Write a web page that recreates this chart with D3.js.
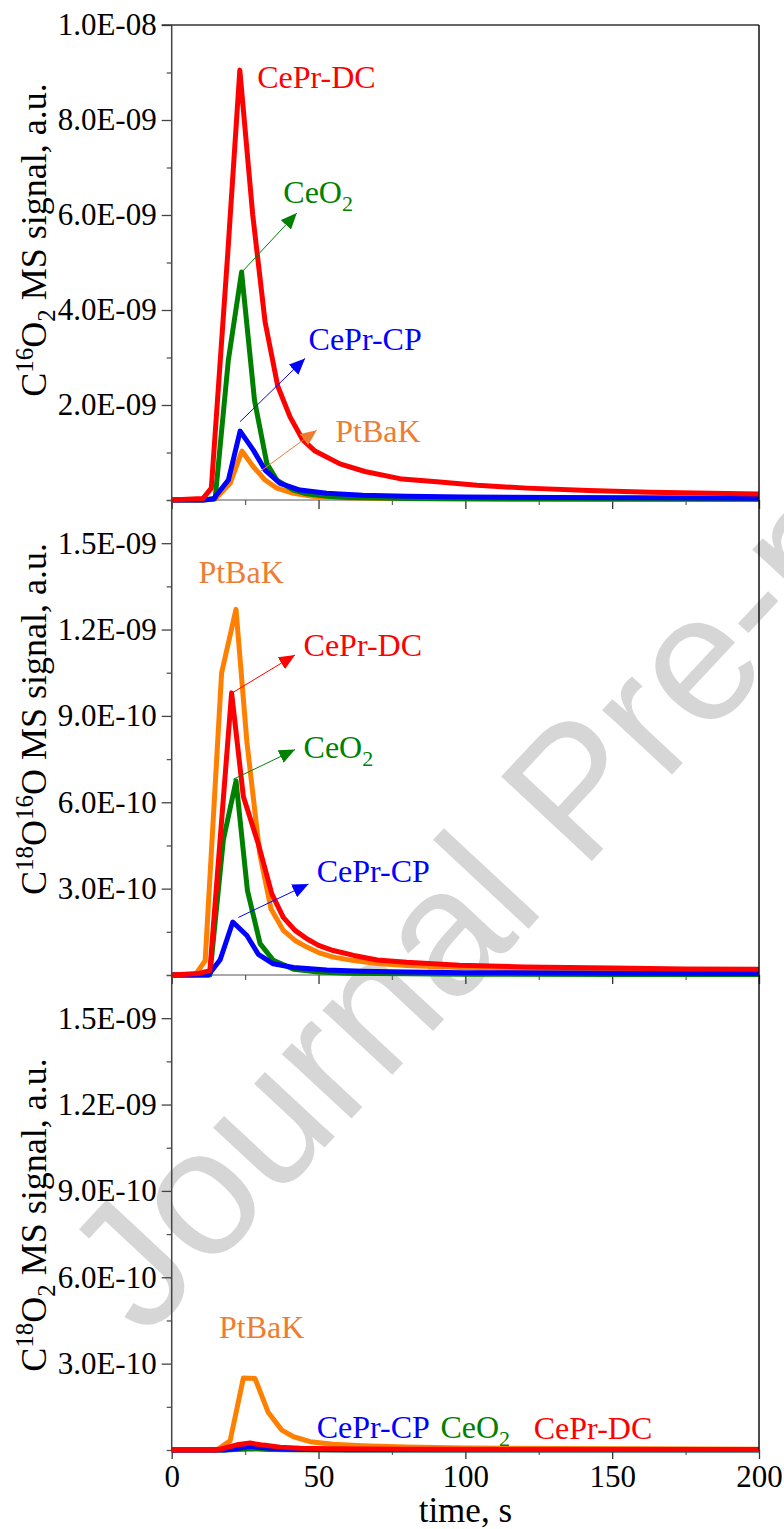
<!DOCTYPE html>
<html><head><meta charset="utf-8">
<script src="https://cdn.jsdelivr.net/npm/d3@7"></script>
<style>body{margin:0;background:#fff}svg{display:block}</style>
</head><body>
<svg id="c" width="784" height="1529"></svg>
<script>
// ---------- DATA ----------
// time axis
const xMajorTicks = [0, 50, 100, 150, 200];
const xMinorTicks = [25, 75, 125, 175];

// Panel 1: C16O2, values in units of 1e-9
const p1Unit = 1e-9;
const p1RedT    = [0, 10.6, 13.5, 19.1, 23.2, 27.6, 31.8, 36.1, 40.3, 44.6, 48.8, 57.3, 65.8, 78.5, 91.3, 104, 121, 142, 163, 184, 200];
const p1RedV    = [0, 0.03, 0.25, 5.2, 9.05, 6.0, 3.75, 2.4, 1.75, 1.27, 1.03, 0.76, 0.6, 0.44, 0.38, 0.31, 0.25, 0.2, 0.165, 0.14, 0.126];
const p1GreenT  = [0, 10.6, 14.8, 19.3, 23.8, 28.2, 32.4, 35.8, 41.5, 46, 52.9, 60, 80, 120, 200];
const p1GreenV  = [0, 0, 0.03, 2.95, 4.8, 2.1, 0.77, 0.42, 0.21, 0.13, 0.08, 0.05, 0.03, 0.02, 0.015];
const p1BlueT   = [0, 10.6, 14.2, 19.3, 23.3, 27.8, 31.8, 36.9, 43.7, 52.8, 65, 80, 100, 130, 160, 200];
const p1BlueV   = [0, 0, 0.02, 0.42, 1.45, 1.05, 0.63, 0.35, 0.21, 0.14, 0.1, 0.08, 0.065, 0.055, 0.045, 0.038];
const p1OrangeT = [0, 10.6, 14.8, 19.9, 23.9, 27.8, 31.8, 35.8, 41.5, 48, 56, 70, 90, 130, 200];
const p1OrangeV = [0, 0, 0.02, 0.35, 1.03, 0.7, 0.42, 0.25, 0.14, 0.08, 0.05, 0.035, 0.025, 0.02, 0.015];

// Panel 2: C18O16O, values in units of 1e-10
const p2Unit = 1e-10;
const p2OrangeT = [0, 8, 11.4, 17, 21.9, 25.6, 30, 33.8, 38, 42, 46, 50, 55, 62, 70, 80, 98, 120, 150, 175, 200];
const p2OrangeV = [0, 0, 0.5, 10.5, 12.7, 8.1, 4.2, 2.3, 1.55, 1.2, 0.97, 0.78, 0.62, 0.5, 0.4, 0.33, 0.26, 0.22, 0.18, 0.16, 0.15];
const p2RedT    = [0, 9, 13, 20.4, 24.4, 29.5, 34.1, 38, 42, 46, 50, 55, 62, 70, 80, 98, 120, 150, 175, 200];
const p2RedV    = [0, 0.05, 0.15, 9.8, 6.2, 4.55, 2.82, 2.0, 1.55, 1.26, 1.03, 0.85, 0.68, 0.52, 0.44, 0.34, 0.28, 0.24, 0.21, 0.2];
const p2GreenT  = [0, 13, 17.6, 21.9, 25.8, 30.1, 34.6, 41.5, 50, 60, 80, 100, 150, 200];
const p2GreenV  = [0, 0, 4.7, 6.74, 2.93, 1.09, 0.51, 0.2, 0.1, 0.06, 0.04, 0.03, 0.02, 0.02];
const p2BlueT   = [0, 12.5, 16.5, 20.8, 25.6, 29.5, 34.6, 41.5, 52.8, 65, 80, 100, 130, 160, 200];
const p2BlueV   = [0, 0, 0.53, 1.84, 1.37, 0.72, 0.39, 0.26, 0.17, 0.13, 0.1, 0.08, 0.07, 0.06, 0.05];

// Panel 3: C18O2, values in units of 1e-10
const p3Unit = 1e-10;
const p3OrangeT = [0, 15.3, 19.9, 24.4, 28.4, 32.9, 37.5, 41.5, 47.2, 55, 65, 80, 100, 130, 160, 200];
const p3OrangeV = [0, 0, 0.32, 2.5, 2.48, 1.3, 0.69, 0.46, 0.29, 0.2, 0.15, 0.1, 0.07, 0.05, 0.04, 0.03];
const p3RedT    = [0, 15.3, 22.2, 26.7, 31.2, 36.9, 43.7, 55, 80, 120, 200];
const p3RedV    = [0, 0, 0.18, 0.24, 0.17, 0.1, 0.06, 0.04, 0.03, 0.02, 0.02];
const p3BlueT   = [0, 18, 22.5, 26.7, 31.2, 36.9, 45, 60, 100, 200];
const p3BlueV   = [0, 0, 0.06, 0.13, 0.08, 0.04, 0.02, 0.01, 0.01, 0.01];
const p3GreenT  = [0, 18, 24, 28, 33, 40, 60, 200];
const p3GreenV  = [0, 0, 0.03, 0.04, 0.02, 0.01, 0, 0];

// Y ticks
const p1YMajor = [2e-9, 4e-9, 6e-9, 8e-9, 1e-8];
const p1YMinor = [0, 1e-9, 3e-9, 5e-9, 7e-9, 9e-9];
const p23YMajor = [3e-10, 6e-10, 9e-10, 1.2e-9, 1.5e-9];
const p23YMinor = [0, 1.5e-10, 4.5e-10, 7.5e-10, 1.05e-9, 1.35e-9, 1.65e-9];

// Axis titles (segments: text, kind)
const p1Title = [["C", ""], ["16", "sup"], ["O", ""], ["2", "sub"], [" MS signal, a.u.", ""]];
const p2Title = [["C", ""], ["18", "sup"], ["O", ""], ["16", "sup"], ["O MS signal, a.u.", ""]];
const p3Title = [["C", ""], ["18", "sup"], ["O", ""], ["2", "sub"], [" MS signal, a.u.", ""]];
const xTitle = "time, s";

// Annotations: label segments, label anchor (t, value in panel unit), optional arrow from/to (t, value)
const p1Labels = [
  {seg: [["CePr-DC", ""]], c: "red", t: 29.1, v: 8.67},
  {seg: [["CeO", ""], ["2", "sub"]], c: "green", t: 38.0, v: 6.25, a: [23.9, 4.8, 42.6, 6.04]},
  {seg: [["CePr-CP", ""]], c: "blue", t: 46.6, v: 3.16, a: [23.3, 1.65, 45.4, 2.98]},
  {seg: [["PtBaK", ""]], c: "orangeT", t: 55.7, v: 1.23, a: [30.1, 0.6, 49.4, 1.47]}
];
const p2Labels = [
  {seg: [["PtBaK", ""]], c: "orangeT", t: 9.1, v: 13.6},
  {seg: [["CePr-DC", ""]], c: "red", t: 44.9, v: 11.09, a: [20.45, 9.79, 42.0, 11.12]},
  {seg: [["CeO", ""], ["2", "sub"]], c: "green", t: 44.9, v: 7.54, a: [21.0, 6.8, 42.0, 7.83]},
  {seg: [["CePr-CP", ""]], c: "blue", t: 49.4, v: 3.22, a: [22.7, 2.0, 46.6, 3.16]}
];
const p3Labels = [
  {seg: [["PtBaK", ""]], c: "orangeT", t: 16.1, v: 3.89},
  {seg: [["CePr-CP", ""]], c: "blue", t: 49.4, v: 0.43},
  {seg: [["CeO", ""], ["2", "sub"]], c: "green", t: 91.5, v: 0.43},
  {seg: [["CePr-DC", ""]], c: "red", t: 123.3, v: 0.39}
];
const watermarkText = "Journal Pre-proof";

// ---------- STYLE ----------
const colors = {red: "#ff0000", green: "#008000", blue: "#0000ff", orange: "#ff8000", orangeT: "#ee7d31"};
const serif = "'Liberation Serif','Times New Roman',serif";
const L = 171.7, R = 759;
const panels = [
  {top: 25,  bottom: 500,  dom: [0, 1e-8],    unit: p1Unit, major: p1YMajor, minor: p1YMinor, title: p1Title, tcy: 240,
   series: [["orange", p1OrangeT, p1OrangeV], ["green", p1GreenT, p1GreenV], ["blue", p1BlueT, p1BlueV], ["red", p1RedT, p1RedV]], labels: p1Labels},
  {top: 500, bottom: 975,  dom: [0, 1.65e-9], unit: p2Unit, major: p23YMajor, minor: p23YMinor, title: p2Title, tcy: 719,
   series: [["orange", p2OrangeT, p2OrangeV], ["green", p2GreenT, p2GreenV], ["blue", p2BlueT, p2BlueV], ["red", p2RedT, p2RedV]], labels: p2Labels},
  {top: 975, bottom: 1450, dom: [0, 1.65e-9], unit: p3Unit, major: p23YMajor, minor: p23YMinor, title: p3Title, tcy: 1215,
   series: [["orange", p3OrangeT, p3OrangeV], ["green", p3GreenT, p3GreenV], ["blue", p3BlueT, p3BlueV], ["red", p3RedT, p3RedV]], labels: p3Labels}
];

const svg = d3.select("#c");
const x = d3.scaleLinear().domain([0, 200]).range([L, R]);

// markers
const defs = svg.append("defs");
Object.entries(colors).forEach(([k, col]) => {
  defs.append("marker").attr("id", "ah-" + k)
    .attr("viewBox", "0 0 16 14").attr("refX", 16).attr("refY", 7)
    .attr("markerWidth", 16).attr("markerHeight", 14)
    .attr("markerUnits", "userSpaceOnUse").attr("orient", "auto")
    .append("path").attr("d", "M0,0 L16,7 L0,14 Z").attr("fill", col);
});

// watermark
svg.append("text")
  .attr("transform", "translate(145,1340) rotate(-47)")
  .attr("font-family", "'Liberation Sans',Arial,sans-serif")
  .attr("font-size", 180)
  .attr("fill", "#d6d6d6")
  .text(watermarkText);

function expFmt(d) {
  const e = Math.floor(Math.log10(d) + 1e-9);
  const m = d / Math.pow(10, e);
  return m.toFixed(1) + "E-" + String(-e).padStart(2, "0");
}

function rich(sel, segs, big, small, supS, subS) {
  let shift = 0;
  segs.forEach(([txt, kind]) => {
    const target = kind === "sup" ? -supS : kind === "sub" ? subS : 0;
    sel.append("tspan").attr("dy", target - shift).attr("font-size", kind ? small : big).text(txt);
    shift = target;
  });
}

panels.forEach((p, i) => {
  const y = d3.scaleLinear().domain(p.dom).range([p.bottom, p.top]);
  const g = svg.append("g");

  // y axis major
  const ya = g.append("g").attr("transform", `translate(${L},0)`)
    .call(d3.axisLeft(y).tickValues(p.major).tickSize(10).tickPadding(5).tickFormat(expFmt));
  ya.select(".domain").remove();
  ya.selectAll("line").attr("stroke", "#444").attr("stroke-width", 1.3);
  ya.selectAll("text").attr("font-family", serif).attr("font-size", 31).attr("fill", "#000");
  const ym = g.append("g").attr("transform", `translate(${L},0)`)
    .call(d3.axisLeft(y).tickValues(p.minor).tickSize(5).tickFormat(""));
  ym.select(".domain").remove();
  ym.selectAll("line").attr("stroke", "#555").attr("stroke-width", 1.3);

  // x axis ticks (downward) at panel bottom
  const xa = g.append("g").attr("transform", `translate(0,${p.bottom})`)
    .call(d3.axisBottom(x).tickValues(xMajorTicks).tickSize(9).tickPadding(6)
      .tickFormat(i === 2 ? d3.format("d") : ""));
  xa.select(".domain").remove();
  xa.selectAll("line").attr("stroke", "#333").attr("stroke-width", 1.3);
  xa.selectAll("text").attr("font-family", serif).attr("font-size", 31).attr("fill", "#000");
  const xm = g.append("g").attr("transform", `translate(0,${p.bottom})`)
    .call(d3.axisBottom(x).tickValues(xMinorTicks).tickSize(5).tickFormat(""));
  xm.select(".domain").remove();
  xm.selectAll("line").attr("stroke", "#666").attr("stroke-width", 1.3);

  // bottom line of panel
  g.append("line").attr("x1", L).attr("x2", R).attr("y1", p.bottom).attr("y2", p.bottom)
    .attr("stroke", "#555").attr("stroke-width", 1);

  // series
  const line = d3.line().x(d => x(d[0])).y(d => y(d[1] * p.unit));
  p.series.forEach(([c, ts, vs]) => {
    g.append("path").datum(ts.map((t, k) => [t, vs[k]]))
      .attr("d", line).attr("fill", "none")
      .attr("stroke", colors[c]).attr("stroke-width", 5)
      .attr("stroke-linejoin", "round").attr("stroke-linecap", "butt");
  });

  // labels + arrows
  p.labels.forEach(lb => {
    if (lb.a) {
      g.append("line")
        .attr("x1", x(lb.a[0])).attr("y1", y(lb.a[1] * p.unit))
        .attr("x2", x(lb.a[2])).attr("y2", y(lb.a[3] * p.unit))
        .attr("stroke", colors[lb.c]).attr("stroke-width", 1)
        .attr("marker-end", `url(#ah-${lb.c})`);
    }
    const t = g.append("text").attr("x", x(lb.t)).attr("y", y(lb.v * p.unit))
      .attr("font-family", serif).attr("fill", colors[lb.c]);
    rich(t, lb.seg, 32, 22, 12, 8);
  });

  // y title
  const tt = svg.append("text")
    .attr("transform", `translate(46,${p.tcy}) rotate(-90)`)
    .attr("text-anchor", "middle").attr("font-family", serif).attr("fill", "#000");
  rich(tt, p.title, 36, 25, 13, 9);
});

// frame
svg.append("line").attr("x1", L).attr("x2", L).attr("y1", 25).attr("y2", 1450).attr("stroke", "#444").attr("stroke-width", 1.5);
svg.append("line").attr("x1", L - 10).attr("x2", R).attr("y1", 25).attr("y2", 25).attr("stroke", "#333").attr("stroke-width", 1.5);
svg.append("line").attr("x1", R).attr("x2", R).attr("y1", 25).attr("y2", 1450).attr("stroke", "#111").attr("stroke-width", 1.5);

// x title
svg.append("text").attr("x", (L + R) / 2).attr("y", 1522).attr("text-anchor", "middle")
  .attr("font-family", serif).attr("font-size", 35).attr("fill", "#000").text(xTitle);
</script>
</body></html>
